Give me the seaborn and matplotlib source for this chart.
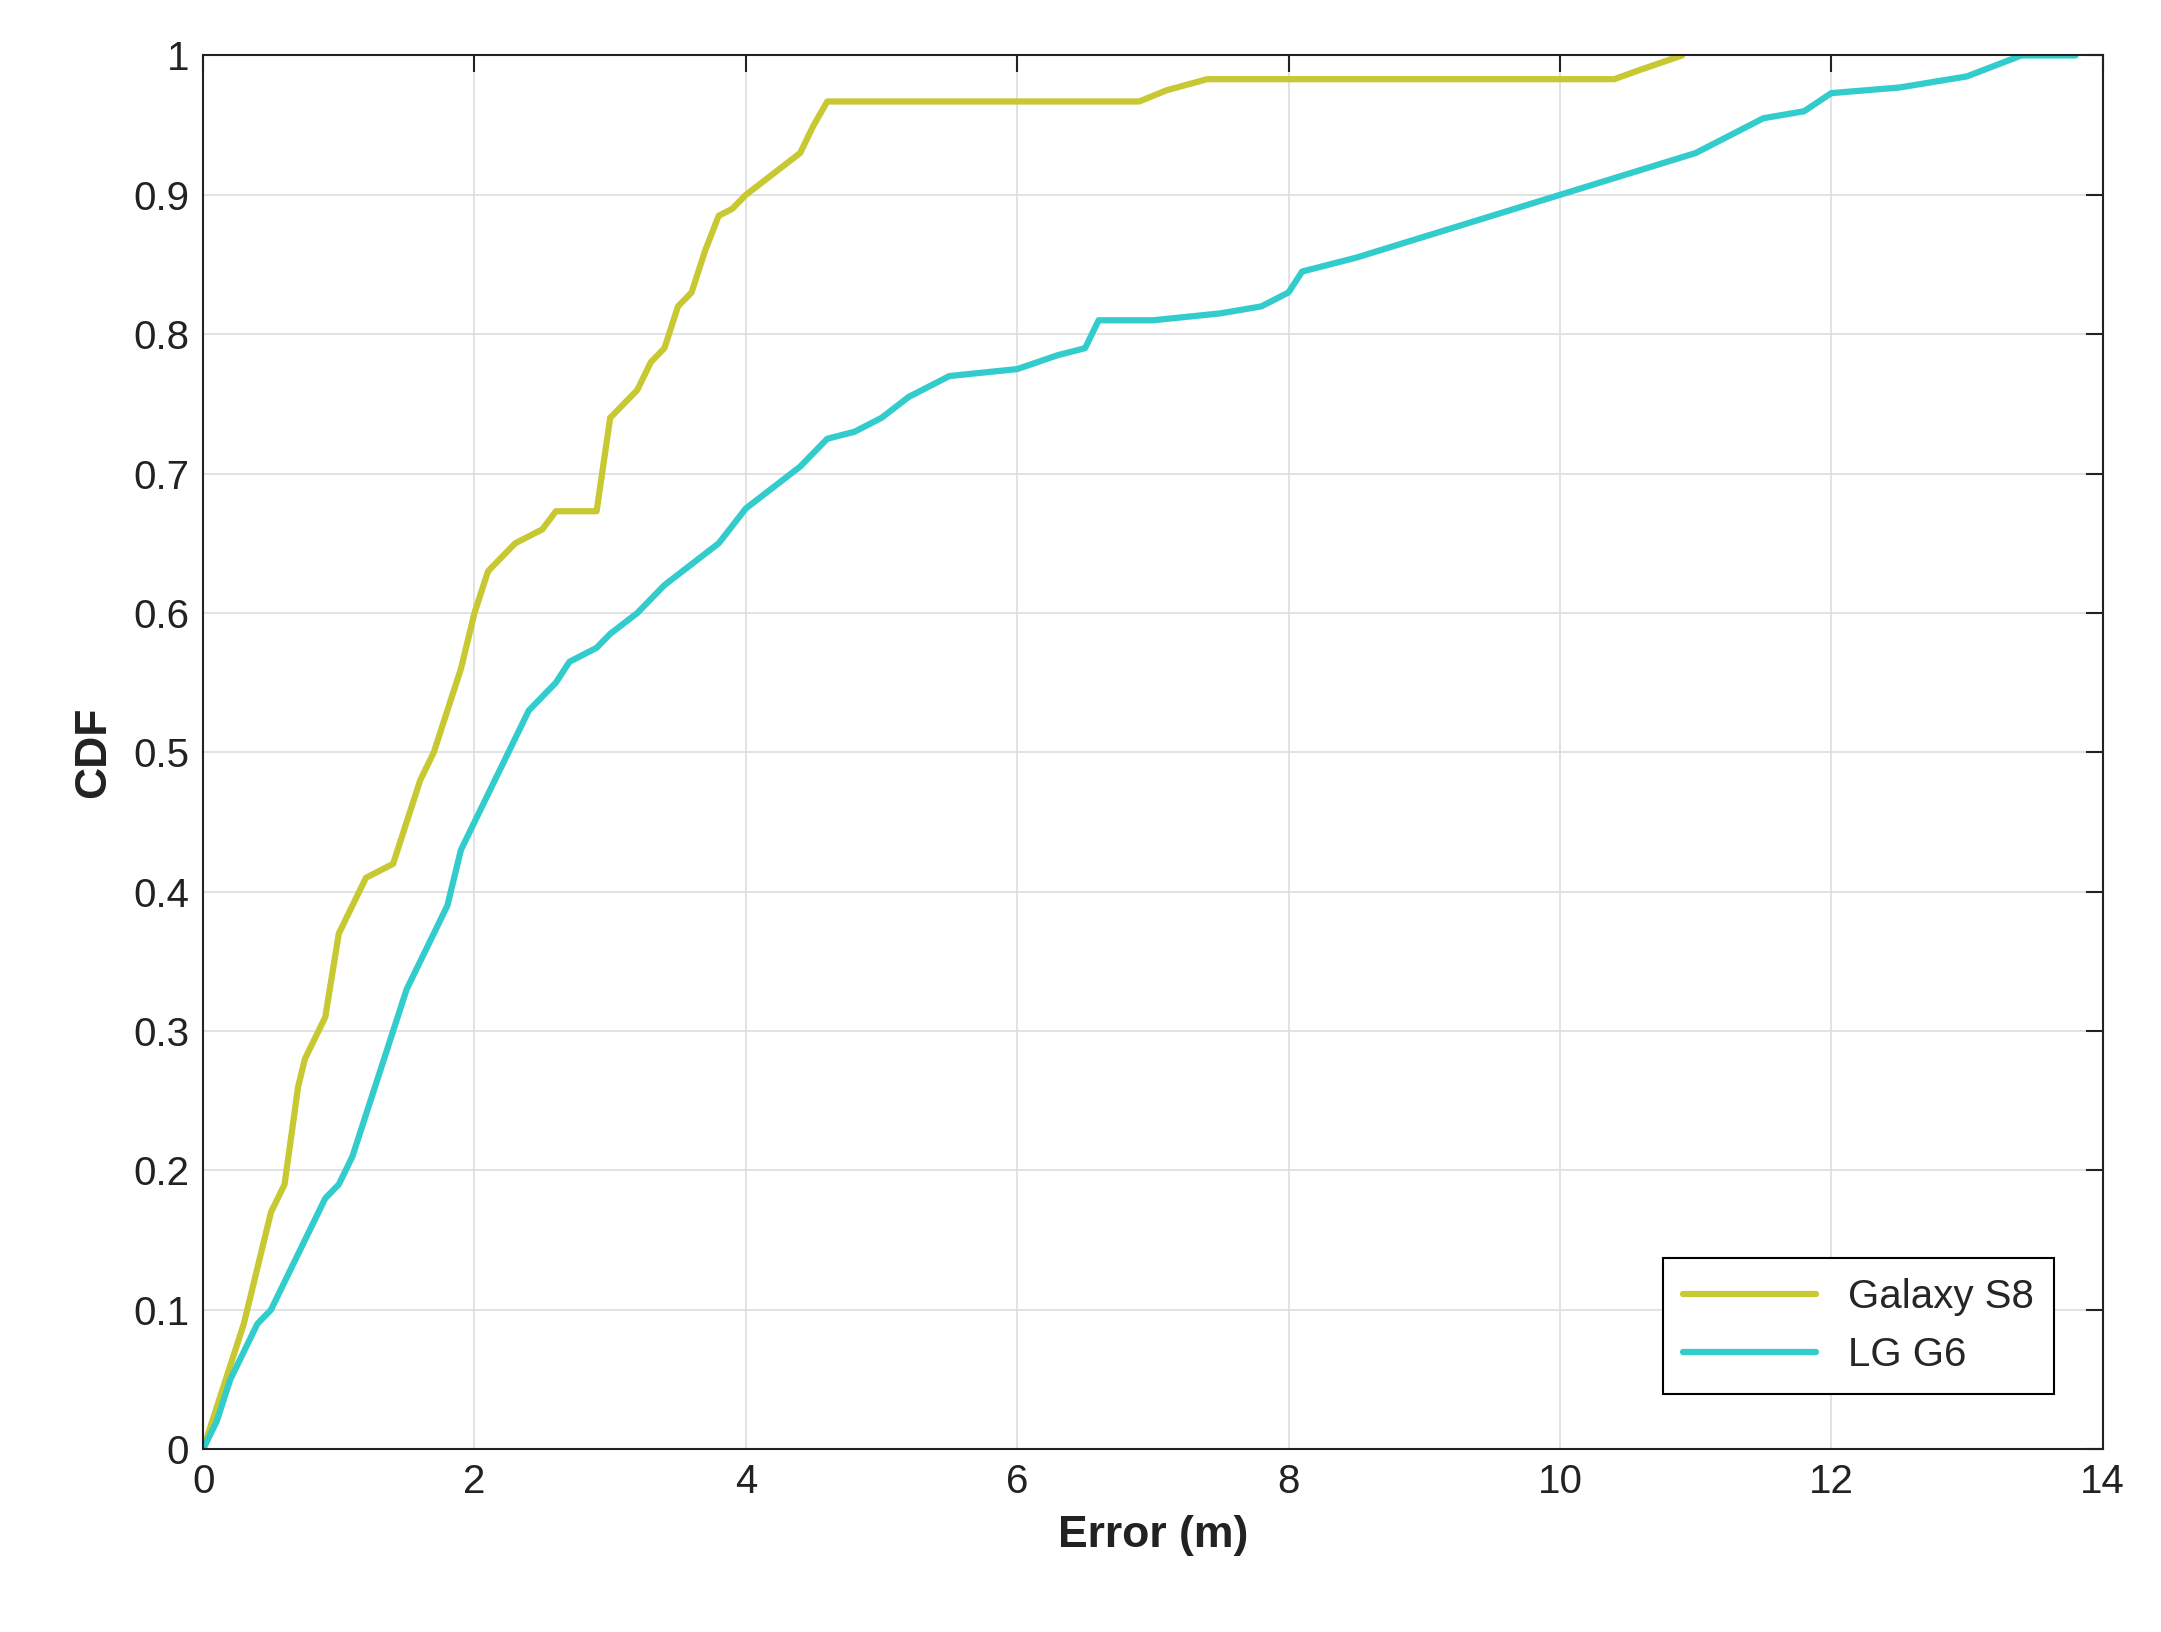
import matplotlib
matplotlib.use("Agg")
import matplotlib.pyplot as plt
import seaborn as sns
import pandas as pd

s8_x = [0,0.1,0.2,0.3,0.4,0.5,0.6,0.7,0.75,0.9,1.0,1.1,1.2,1.4,1.5,1.6,1.7,1.8,1.9,2.0,2.1,2.2,2.3,2.5,2.6,2.9,3.0,3.2,3.3,3.4,3.5,3.6,3.7,3.8,3.9,4.0,4.2,4.4,4.5,4.6,6.9,7.1,7.4,10.4,10.6,10.9]
s8_y = [0,0.03,0.06,0.09,0.13,0.17,0.19,0.26,0.28,0.31,0.37,0.39,0.41,0.42,0.45,0.48,0.5,0.53,0.56,0.6,0.63,0.64,0.65,0.66,0.673,0.673,0.74,0.76,0.78,0.79,0.82,0.83,0.86,0.885,0.89,0.9,0.915,0.93,0.95,0.967,0.967,0.975,0.983,0.983,0.99,1.0]
g6_x = [0,0.1,0.2,0.3,0.4,0.5,0.6,0.7,0.8,0.9,1.0,1.1,1.2,1.3,1.4,1.5,1.6,1.7,1.8,1.9,2.0,2.1,2.2,2.3,2.4,2.5,2.6,2.7,2.9,3.0,3.2,3.4,3.6,3.8,4.0,4.2,4.4,4.6,4.8,5.0,5.2,5.5,6.0,6.3,6.5,6.6,7.0,7.5,7.8,8.0,8.1,8.5,9.0,9.5,10.0,10.5,11.0,11.5,11.8,12.0,12.5,13.0,13.4,13.8]
g6_y = [0,0.02,0.05,0.07,0.09,0.1,0.12,0.14,0.16,0.18,0.19,0.21,0.24,0.27,0.3,0.33,0.35,0.37,0.39,0.43,0.45,0.47,0.49,0.51,0.53,0.54,0.55,0.565,0.575,0.585,0.6,0.62,0.635,0.65,0.675,0.69,0.705,0.725,0.73,0.74,0.755,0.77,0.775,0.785,0.79,0.81,0.81,0.815,0.82,0.83,0.845,0.855,0.87,0.885,0.9,0.915,0.93,0.955,0.96,0.973,0.977,0.985,1.0,1.0]

sns.set_style("white")
plt.rcParams['font.family'] = ['Liberation Sans', 'DejaVu Sans']

fig = plt.figure(figsize=(21.61, 16.32), dpi=100)
ax = fig.add_axes([0.094, 0.112, 0.879, 0.854])

df1 = pd.DataFrame({"x": s8_x, "y": s8_y})
df2 = pd.DataFrame({"x": g6_x, "y": g6_y})
sns.lineplot(data=df1, x="x", y="y", sort=False, color="#c8c832", lw=4.5, label="Galaxy S8", ax=ax)
sns.lineplot(data=df2, x="x", y="y", sort=False, color="#33cccc", lw=4.5, label="LG G6", ax=ax)

ax.set_xlim(0, 14)
ax.set_ylim(0, 1)
ax.set_xticks(range(0, 15, 2))
ax.set_yticks([i/10 for i in range(11)])
ax.set_yticklabels(["0"] + [f"{i/10:g}" for i in range(1, 10)] + ["1"])
ax.grid(True, color="#dddddd", lw=1.2)
ax.tick_params(direction="in", length=12, width=1.5, labelsize=29, top=True, right=True, colors="#222222", pad=10)
for s in ax.spines.values():
    s.set_color("#222222"); s.set_linewidth(1.5)
ax.set_xlabel("Error (m)", fontsize=32, fontweight="bold", color="#222222", labelpad=10)
ax.set_ylabel("CDF", fontsize=32, fontweight="bold", color="#222222", labelpad=14)
leg = ax.legend(loc="lower right", fontsize=29, fancybox=False, edgecolor="black", framealpha=1,
                handlelength=3.3, borderpad=0.5, bbox_to_anchor=(0.985, 0.025))
leg.get_frame().set_linewidth(1.5)
fig.savefig("out.png", dpi=100)
